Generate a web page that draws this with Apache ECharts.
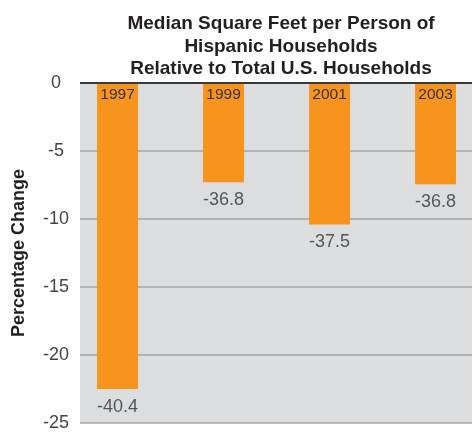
<!DOCTYPE html>
<html>
<head>
<meta charset="utf-8">
<script src="https://cdn.jsdelivr.net/npm/echarts@6/dist/echarts.min.js"></script>
<style>
  html, body { margin: 0; padding: 0; background: #fff; }
  #chart { width: 475px; height: 432px; }
</style>
</head>
<body>
<div id="chart"></div>
<script>
// data
var years = ['1997', '1999', '2001', '2003'];
var changeValues = [-22.5, -7.3, -10.4, -7.45];
var valueLabels = ['-40.4', '-36.8', '-37.5', '-36.8'];
var yTicks = [0, -5, -10, -15, -20, -25];

var chart = echarts.init(document.getElementById('chart'));

var barData = changeValues.map(function (v, i) { return [i, v]; });

chart.setOption({
  animation: false,
  title: {
    text: 'Median Square Feet per Person of\nHispanic Households\nRelative to Total U.S. Households',
    left: 276,
    top: 8,
    textAlign: 'center',
    textStyle: {
      fontFamily: 'Liberation Sans',
      fontWeight: 'bold',
      fontSize: 19,
      lineHeight: 22.5,
      color: '#231f20'
    }
  },
  grid: {
    left: 80,
    right: 3,
    top: 83,
    bottom: 8,
    show: true,
    backgroundColor: '#dcdddf',
    borderWidth: 0
  },
  xAxis: {
    type: 'value',
    min: -0.354,
    max: 3.344,
    show: false
  },
  yAxis: {
    type: 'value',
    min: -25,
    max: 0,
    interval: 5,
    name: 'Percentage Change',
    nameLocation: 'middle',
    nameGap: 52,
    nameTextStyle: {
      fontFamily: 'Liberation Sans',
      fontWeight: 'bold',
      fontSize: 18,
      color: '#231f20'
    },
    axisLine: { show: false },
    axisTick: { show: false },
    axisLabel: {
      fontFamily: 'Liberation Sans',
      fontSize: 18,
      color: '#444',
      margin: 24,
      align: 'center',
      padding: [3, 0, 0, 0],
      formatter: function (v) { return yTicks.indexOf(v) >= 0 ? String(v) : ''; }
    },
    splitLine: { lineStyle: { color: '#a3a4a6', width: 1.5 } }
  },
  series: [
    {
      type: 'bar',
      data: barData,
      barWidth: 41,
      itemStyle: { color: '#f7941d' },
      label: {
        show: true,
        position: 'insideTop',
        distance: 4,
        fontFamily: 'Liberation Sans',
        fontSize: 15.5,
        color: '#333',
        formatter: function (p) { return years[p.dataIndex]; }
      },
      markLine: {
        silent: true,
        symbol: 'none',
        label: { show: false },
        lineStyle: { color: '#3a3a3a', width: 2, type: 'solid' },
        data: [{ yAxis: 0 }]
      }
    },
    {
      type: 'scatter',
      data: barData,
      symbolSize: 0,
      label: {
        show: true,
        position: 'bottom',
        distance: 9,
        fontFamily: 'Liberation Sans',
        fontSize: 18,
        color: '#333',
        formatter: function (p) { return valueLabels[p.dataIndex]; }
      }
    }
  ]
});
</script>
</body>
</html>
